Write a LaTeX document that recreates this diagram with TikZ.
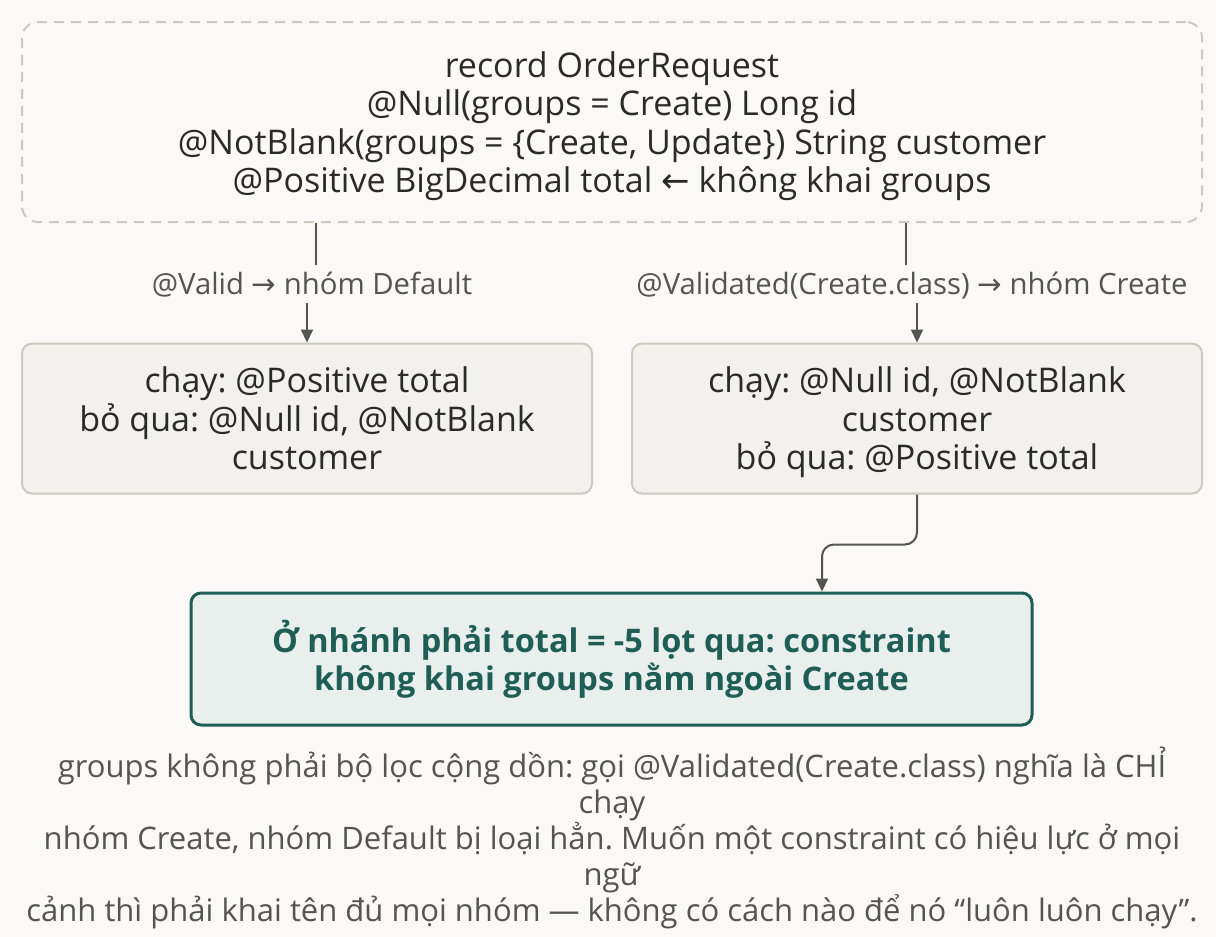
\documentclass[tikz,border=0pt]{standalone}
\usepackage{fontspec}
\setmainfont{Open Sans}
\newfontfamily\sym{DejaVu Sans}
\usetikzlibrary{arrows.meta}
\frenchspacing
\definecolor{bg}{HTML}{FAF9F7}
\definecolor{bord}{HTML}{CCC9C0}
\definecolor{boxfill}{HTML}{F2F1EE}
\definecolor{ink}{HTML}{2A2A28}
\definecolor{muted}{HTML}{55554F}
\definecolor{teal}{HTML}{1F5E55}
\definecolor{tealfill}{HTML}{E8EFEC}
\tikzset{
  codebox/.style={draw=bord, dash pattern=on 10pt off 7pt, line width=2pt, rounded corners=16pt,
    fill=bg, minimum width=1180pt, minimum height=200pt},
  codetext/.style={align=center, text=ink, font=\fontsize{34}{38.5}\selectfont},
  stepbox/.style={draw=bord, line width=2pt, rounded corners=10pt, fill=boxfill,
    minimum width=570pt, minimum height=150pt, align=center, text=ink,
    font=\fontsize{34}{38.5}\selectfont},
  resbox/.style={draw=teal, line width=3pt, rounded corners=10pt, fill=tealfill,
    minimum width=841pt, minimum height=132pt, align=center, text=teal,
    font=\bfseries\fontsize{32.5}{38.5}\selectfont},
  lbl/.style={text=muted, font=\fontsize{29.3}{30}\selectfont, inner sep=0pt,
    text height=22pt, text depth=2pt, minimum height=38pt},
  caption/.style={text=muted, align=center, font=\fontsize{31}{35.8}\selectfont},
  conn/.style={draw=muted, line width=2pt},
  arr/.style={draw=muted, line width=2pt, -{Triangle[width=12pt,length=13pt]}},
}
\begin{document}
\begin{tikzpicture}[x=1pt,y=-1pt]
\fill[bg] (0,0) rectangle (1216,937);
\useasboundingbox (0,0) rectangle (1216,937);

\node[codebox] (top) at (612,122) {};
\node[codetext] (toptext) at (612,126) {record OrderRequest\\
@Null(groups = Create) Long id\\
@NotBlank(groups = \{Create, Update\}) String customer\\
@Positive BigDecimal total {\sym ←} không khai groups};

\node[stepbox] (left) at (307,418.5) {chạy: @Positive total\\
bỏ qua: @Null id, @NotBlank\\
customer};

\node[stepbox] (right) at (917,418.5) {\rule{0pt}{34pt}chạy: @Null id, @NotBlank\\
customer\\
bỏ qua: @Positive total};

\node[resbox] (res) at (611.5,659) {Ở nhánh phải total = -5 lọt qua: constraint\\
không khai groups nằm ngoài Create};

\node[lbl] (lblA) at (312,284) {@Valid {\sym →} nhóm Default};
\node[lbl] (lblB) at (912,284) {@Validated(Create.class) {\sym →} nhóm Create};

\coordinate (ax) at (316,0);
\coordinate (bx) at (906,0);
\coordinate (cx) at (822,0);

\draw[conn] (top.south -| ax) -- (lblA.north -| ax);
\draw[arr] (lblA.south -| left.north) -- (left.north);
\draw[conn] (top.south -| bx) -- (lblB.north -| bx);
\draw[arr] (lblB.south -| right.north) -- (right.north);
\draw[arr, rounded corners=12pt] (right.south) -- ++(0,50) -| (res.north -| cx);

\node[caption] (cap) at (612,838) {groups không phải bộ lọc cộng dồn: gọi @Validated(Create.class) nghĩa là CHỈ\\
chạy\\
nhóm Create, nhóm Default bị loại hẳn. Muốn một constraint có hiệu lực ở mọi\\
ngữ\\
cảnh thì phải khai tên đủ mọi nhóm — không có cách nào để nó “luôn luôn chạy”.};
\end{tikzpicture}
\end{document}
